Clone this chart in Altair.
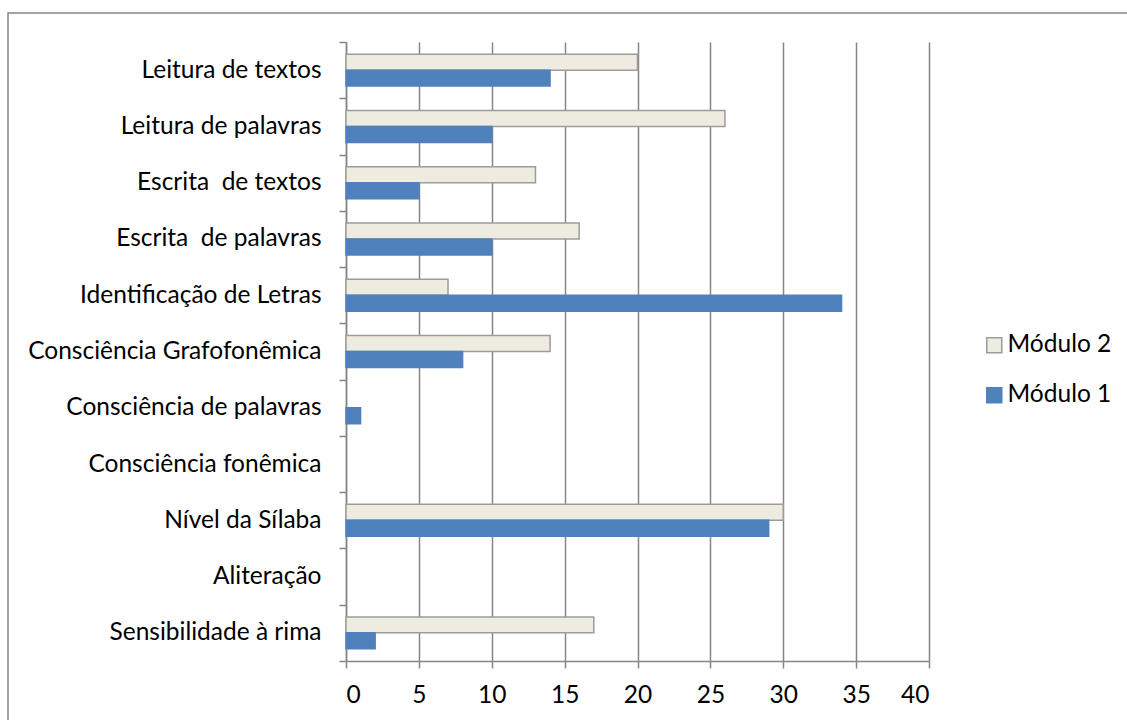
import altair as alt
import pandas as pd

# Categories, top to bottom
categorias = [
    "Leitura de textos",
    "Leitura de palavras",
    "Escrita\u00a0 de textos",
    "Escrita\u00a0 de palavras",
    "Identificação de Letras",
    "Consciência Grafofonêmica",
    "Consciência de palavras",
    "Consciência fonêmica\u00a0",
    "Nível da Sílaba",
    "Aliteração\u00a0",
    "Sensibilidade à rima",
]
modulo_2 = [20, 26, 13, 16, 7, 14, 0, 0, 30, 0, 17]
modulo_1 = [14, 10, 5, 10, 34, 8, 1, 0, 29, 0, 2]
series = ["Módulo 2", "Módulo 1"]
x_ticks = [0, 5, 10, 15, 20, 25, 30, 35, 40]

rows = []
for cat, v2, v1 in zip(categorias, modulo_2, modulo_1):
    rows.append({"categoria": cat, "serie": series[0], "valor": v2})
    rows.append({"categoria": cat, "serie": series[1], "valor": v1})
df = pd.DataFrame(rows)

FONT = "Lato"
FONT_SIZE = 24.5
GRID = "#868686"

bars = (
    alt.Chart(df)
    .transform_filter("datum.valor > 0")
    .mark_bar(strokeWidth=1.5)
    .encode(
        x=alt.X(
            "valor:Q",
            scale=alt.Scale(domain=[0, 40], nice=False),
            axis=alt.Axis(
                values=x_ticks,
                title=None,
                grid=True,
                gridColor=GRID,
                gridWidth=1.5,
                domainColor=GRID,
                domainWidth=1.5,
                tickColor=GRID,
                tickWidth=1.5,
                tickSize=7,
                labelFont=FONT,
                labelFontSize=FONT_SIZE,
                labelColor="#000000",
                labelPadding=15,
            ),
        ),
        y=alt.Y(
            "categoria:N",
            sort=categorias,
            scale=alt.Scale(domain=categorias, paddingInner=0, paddingOuter=0),
            axis=alt.Axis(
                title=None,
                tickBand="extent",
                domainColor=GRID,
                domainWidth=1.5,
                tickColor=GRID,
                tickWidth=1.5,
                tickSize=7,
                labelFont=FONT,
                labelFontSize=FONT_SIZE,
                labelColor="#000000",
                labelPadding=18,
                labelLimit=400,
            ),
        ),
        yOffset=alt.YOffset(
            "serie:N",
            sort=series,
            scale=alt.Scale(domain=series, paddingInner=0, paddingOuter=0.76),
        ),
        fill=alt.Fill(
            "serie:N",
            sort=series,
            scale=alt.Scale(domain=series, range=["#EEECE1", "#4F81BD"]),
            legend=alt.Legend(
                title=None,
                orient="none",
                legendX=636,
                legendY=291,
                symbolType="square",
                symbolSize=225,
                symbolStrokeWidth=1.5,
                labelFont=FONT,
                labelFontSize=FONT_SIZE,
                labelColor="#000000",
                labelOffset=1,
                rowPadding=25,
            ),
        ),
        stroke=alt.Stroke(
            "serie:N",
            sort=series,
            scale=alt.Scale(domain=series, range=["#9C9C9C", "#4F81BD"]),
            legend=None,
        ),
    )
)

# Outer frame around the chart
frame = alt.Chart(pd.DataFrame({"f": [0]})).mark_rect(
    fill=None, stroke=GRID, strokeWidth=1.5, clip=False
).encode(
    x=alt.value(-338), x2=alt.value(800),
    y=alt.value(-29), y2=alt.value(700),
)

chart = (
    alt.layer(frame, bars)
    .properties(
        width=583,
        height=619,
        padding={"left": 346, "top": 42, "right": 198, "bottom": 59},
        autosize=alt.AutoSizeParams(type="none"),
        background="#ffffff",
    )
    .configure_view(stroke=None)
)

chart.save("out.html", embed_options={"renderer": "svg", "actions": False})
